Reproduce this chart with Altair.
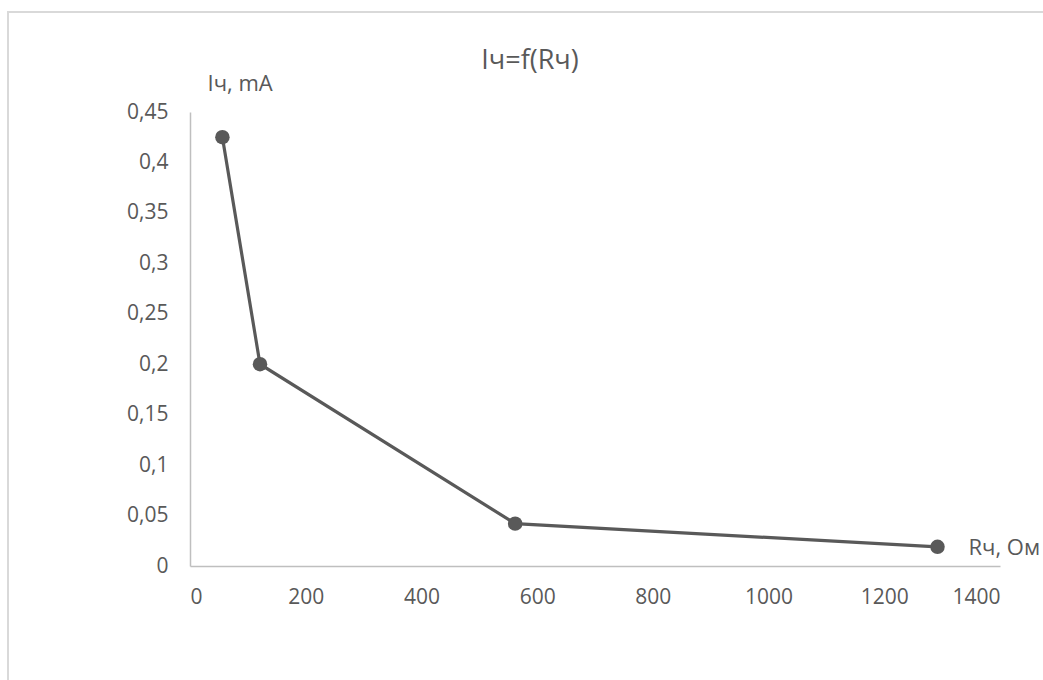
import altair as alt
import pandas as pd

# Data
r_values = [56, 121, 562, 1292]          # Rч, Ом
i_values = [0.425, 0.2, 0.042, 0.019]    # Iч, mA
x_ticks = [0, 200, 400, 600, 800, 1000, 1200, 1400]
y_ticks = [0, 0.05, 0.1, 0.15, 0.2, 0.25, 0.3, 0.35, 0.4, 0.45]

df = pd.DataFrame({"R": r_values, "I": i_values})

W, H = 810, 454
LEFT, TOP = 190, 112
GRAY = "#595959"

border = alt.Chart(pd.DataFrame({"k": [0]})).mark_rect(
    filled=False, color="#d9d9d9", strokeWidth=2
).encode(
    x=alt.value(8 - LEFT), x2=alt.value(1060 - LEFT),
    y=alt.value(12 - TOP), y2=alt.value(720 - TOP),
)

x_enc = alt.X(
    "R:Q",
    scale=alt.Scale(domain=[0, 1400], nice=False),
    axis=alt.Axis(
        values=x_ticks, title="Rч, Ом", titleAngle=0, titleAlign="left",
        titleBaseline="middle", titleX=778, titleY=-19,
        labelPadding=20,
        labelExpr="toString(datum.value)",
    ),
)
y_enc = alt.Y(
    "I:Q",
    scale=alt.Scale(domain=[0, 0.45], nice=False),
    axis=alt.Axis(
        values=y_ticks, title="Iч, mA", titleAngle=0, titleAlign="left",
        titleBaseline="middle", titleX=17, titleY=-29,
        labelPadding=22,
        labelExpr="replace(toString(datum.value), '.', ',')",
    ),
)

line = alt.Chart(df).mark_line(color=GRAY, strokeWidth=3.2).encode(x=x_enc, y=y_enc)
points = alt.Chart(df).mark_point(filled=True, size=210, color=GRAY, opacity=1).encode(x=x_enc, y=y_enc)

chart = alt.layer(border, line, points).properties(
    width=W, height=H,
    title=alt.TitleParams("Iч=f(Rч)", fontSize=27, color=GRAY, fontWeight="normal",
                          anchor="middle", frame="group", dx=-65, dy=68),
    autosize=alt.AutoSizeParams(type="none"),
    padding={"left": LEFT, "top": TOP, "right": 1043 - LEFT - W, "bottom": 680 - TOP - H},
).configure(
    font="Open Sans",
    background="white",
).configure_view(
    stroke=None,
).configure_axis(
    grid=False, ticks=False, tickSize=0, zindex=1,
    domainColor="#bfbfbf", domainWidth=1.5,
    labelFont="Open Sans", labelFontSize=21, labelColor=GRAY,
    titleFont="Open Sans", titleFontSize=22, titleColor=GRAY, titleFontWeight="normal",
)

chart.save("out.html", embed_options={"renderer": "svg", "actions": False})
